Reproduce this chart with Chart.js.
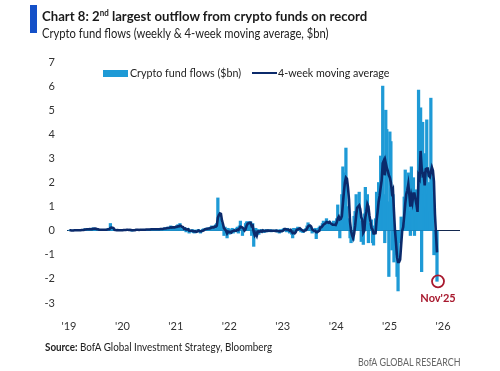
<!DOCTYPE html>
<html><head><meta charset="utf-8">
<script src="https://cdn.jsdelivr.net/npm/chart.js@4.4.1/dist/chart.umd.min.js"></script>
<style>
html,body{margin:0;padding:0;background:#fff;}
#wrap{position:relative;width:500px;height:371px;overflow:hidden;font-family:Lato,'Open Sans',sans-serif;}
canvas{position:absolute;left:0;top:0;}
.t{position:absolute;white-space:nowrap;transform-origin:0 50%;}
sup{font-size:8.5px;line-height:0;vertical-align:5px;}
</style></head><body>
<div id="wrap">
<canvas id="c" width="500" height="371"></canvas>
<div class="t" style="left:30px;top:5px;width:7px;height:28px;background:#1450c8"></div>
<div class="t" style="left:42px;top:8px;font-size:14px;font-weight:700;line-height:16px;color:#1a1a1a;transform:scaleX(0.94)">Chart 8: 2<sup>nd</sup> largest outflow from crypto funds on record</div>
<div class="t" style="left:42px;top:25px;font-size:13.5px;line-height:16px;color:#222;transform:scaleX(0.83)">Crypto fund flows (weekly &amp; 4-week moving average, $bn)</div>
<div class="t" style="left:103px;top:70px;width:25px;height:7px;background:#1e9ad6"></div>
<div class="t" style="left:130px;top:66px;font-size:11.5px;line-height:14px;color:#222;transform:scaleX(0.93)">Crypto fund flows ($bn)</div>
<div class="t" style="left:252px;top:72px;width:25px;height:2px;background:#0b2a6b"></div>
<div class="t" style="left:278px;top:66px;font-size:11.5px;line-height:14px;color:#222;transform:scaleX(0.93)">4-week moving average</div>
<div class="t" style="left:45px;top:340px;font-size:12px;line-height:14px;color:#222;transform:scaleX(0.82)"><b>Source:</b> BofA Global Investment Strategy, Bloomberg</div>
<div class="t" style="left:358px;top:355px;font-size:11px;line-height:14px;color:#666;transform:scaleX(0.81)">BofA GLOBAL RESEARCH</div>
</div>
<script>
// weekly crypto fund flows ($bn), one row per calendar year, last week = 21 Nov 2025
const flows2019 = [0.02,0.01,0.0,0.02,0.01,0.03,0.02,0.0,0.02,0.03,
  0.01,0.02,0.04,0.03,0.05,0.08,0.04,0.06,0.05,0.1,
  0.06,0.04,0.08,0.12,0.06,0.1,0.05,0.03,0.06,0.02,
  0.04,0.05,0.03,0.02,0.05,0.04,0.06,0.03,0.1,0.05,
  0.3,0.08,0.03,0.02,0.04,0.01,0.02,0.03,0.01,0.02,
  0.03,0.02];
const flows2020 = [0.02,0.03,0.04,0.02,0.05,0.03,0.02,0.04,0.03,-0.02,
  0.02,0.03,0.05,0.04,0.02,0.03,0.04,0.05,0.03,0.02,
  0.04,0.06,0.03,0.05,0.04,0.03,0.06,0.05,0.08,0.04,
  0.06,0.05,0.07,0.04,0.06,0.08,0.05,0.1,0.07,0.06,
  0.09,0.12,0.08,0.1,0.15,0.09,0.12,0.2,0.1,0.15,
  0.12,0.18];
const flows2021 = [0.15,0.2,0.25,0.1,0.3,0.15,0.1,0.05,0.08,0.12,
  -0.05,0.05,0.1,-0.1,-0.05,0.02,0.05,-0.08,-0.1,0.03,
  -0.05,0.02,0.05,-0.05,-0.1,0.02,0.05,0.08,0.03,0.1,
  0.05,0.12,0.08,0.1,0.15,0.2,0.12,0.1,0.2,0.25,
  0.3,1.36,0.7,0.5,0.3,0.2,0.1,-0.2,0.15,-0.1,
  -0.3,0.1];
const flows2022 = [-0.15,0.05,-0.1,0.1,-0.1,0.05,-0.05,0.1,0.15,-0.1,
  0.2,0.4,0.1,-0.2,0.05,0.1,0.3,0.37,0.37,0.2,
  0.37,0.37,-0.2,0.3,-0.65,-0.2,0.1,-0.1,0.05,-0.15,
  0.0,0.05,-0.05,0.03,-0.08,0.02,0.05,-0.05,0.02,-0.03,
  0.05,-0.05,0.03,-0.02,0.02,-0.03,0.04,-0.06,0.02,-0.1,
  0.05,-0.05];
const flows2023 = [0.05,0.08,0.1,0.05,-0.05,0.1,0.05,-0.1,0.05,-0.15,
  -0.3,0.1,-0.1,0.05,0.1,0.15,0.05,0.1,-0.05,0.03,
  -0.08,0.02,0.05,0.1,0.2,0.33,0.2,0.1,0.05,-0.1,
  0.05,-0.05,0.1,-0.33,0.05,0.1,0.15,0.2,0.1,0.3,
  0.4,0.3,0.25,0.5,0.35,0.2,0.4,0.3,0.2,0.1,
  0.4,0.3];
const flows2024 = [0.15,0.5,1.07,0.6,-0.3,0.6,1.5,2.65,1.9,2.4,
  3.43,1.0,0.5,0.3,-0.3,-0.5,-0.2,-0.4,0.6,0.8,
  1.5,0.9,0.7,1.6,0.4,-0.45,0.3,-0.57,0.7,1.8,
  1.2,1.5,-0.5,0.3,0.2,0.45,-0.5,-0.6,0.2,0.5,
  1.6,0.8,2.0,1.4,3.1,2.2,6.0,1.5,-0.5,5.0,
  4.2,1.2];
const flows2025 = [-1.9,4.1,3.7,-0.8,1.5,-1.3,-0.4,-1.0,-1.9,-2.5,
  -0.3,-0.5,0.57,0.2,0.33,1.4,2.52,1.8,1.0,2.4,
  0.8,-0.2,2.65,1.5,2.2,-0.2,1.7,0.6,1.0,5.83,
  1.3,5.1,-1.7,4.5,1.5,3.2,1.0,4.6,1.5,2.0,
  0.8,5.5,2.2,1.5,-1.0,0.0,-1.0,-2.1];

// 4-week moving average ($bn)
const ma2019 = [0.02,0.02,0.01,0.01,0.01,0.02,0.02,0.02,0.02,0.02,
  0.02,0.02,0.03,0.03,0.03,0.05,0.05,0.06,0.06,0.06,
  0.07,0.06,0.06,0.08,0.08,0.09,0.08,0.06,0.06,0.04,
  0.04,0.04,0.04,0.04,0.04,0.04,0.04,0.05,0.06,0.06,
  0.12,0.13,0.12,0.11,0.04,0.03,0.02,0.03,0.02,0.02,
  0.02,0.02];
const ma2020 = [0.02,0.03,0.03,0.03,0.04,0.04,0.03,0.04,0.03,0.02,
  0.02,0.02,0.02,0.04,0.04,0.04,0.03,0.04,0.04,0.04,
  0.04,0.04,0.04,0.05,0.05,0.05,0.05,0.05,0.06,0.06,
  0.06,0.06,0.06,0.06,0.06,0.06,0.06,0.07,0.07,0.07,
  0.08,0.09,0.09,0.1,0.11,0.11,0.12,0.14,0.13,0.14,
  0.14,0.14];
const ma2021 = [0.16,0.16,0.18,0.18,0.21,0.2,0.16,0.15,0.08,0.09,
  0.05,0.05,0.06,0.0,0.0,0.0,0.0,-0.02,-0.03,-0.03,
  -0.05,-0.03,0.01,-0.01,-0.02,-0.02,0.0,0.01,0.05,0.07,
  0.07,0.08,0.09,0.09,0.11,0.13,0.14,0.14,0.17,0.17,
  0.21,0.53,0.65,0.72,0.7,0.43,0.28,0.1,0.06,-0.01,
  -0.11,-0.04];
const ma2022 = [-0.06,-0.06,-0.08,-0.03,-0.01,0.01,0.0,0.0,0.04,0.03,
  0.09,0.16,0.15,0.13,0.09,0.01,0.06,0.2,0.29,0.31,
  0.33,0.33,0.19,0.21,-0.05,-0.19,-0.11,-0.21,-0.04,-0.03,
  -0.04,-0.01,-0.04,0.01,-0.01,-0.02,0.0,-0.01,0.01,0.0,
  0.0,0.0,0.0,0.0,0.0,-0.01,0.0,-0.01,-0.01,-0.03,
  -0.02,-0.02];
const ma2023 = [-0.01,0.01,0.07,0.07,0.05,0.05,0.04,0.0,0.03,-0.04,
  -0.1,-0.08,-0.11,-0.06,0.04,0.05,0.08,0.1,0.06,0.03,
  0.0,-0.02,0.01,0.02,0.09,0.17,0.21,0.21,0.17,0.06,
  0.02,-0.01,0.0,-0.06,-0.06,-0.03,-0.01,0.13,0.14,0.19,
  0.25,0.28,0.31,0.36,0.35,0.33,0.36,0.31,0.28,0.25,
  0.25,0.25];
const ma2024 = [0.24,0.34,0.5,0.58,0.47,0.49,0.6,1.11,1.6,2.0,
  2.2,2.15,1.8,1.3,0.38,0.0,-0.18,-0.3,-0.13,0.2,
  0.63,0.95,1.0,1.05,0.9,0.56,0.46,-0.08,0.0,0.56,
  0.8,1.1,1.0,0.63,0.38,0.11,0.05,-0.11,-0.11,-0.1,
  0.43,0.78,1.2,1.45,1.8,2.1,2.8,2.9,2.3,2.8,
  2.6,2.48];
const ma2025 = [2.3,2.2,2.0,1.6,1.7,0.8,0.0,-0.5,-1.1,-1.3,
  -1.3,-1.2,-0.6,-0.01,0.15,0.63,1.11,1.51,1.68,1.93,
  1.5,1.0,1.41,1.19,1.54,1.54,1.3,1.08,0.78,2.28,
  2.18,3.31,2.63,2.3,2.35,1.88,2.55,2.58,2.58,2.28,
  2.23,2.45,2.63,2.5,2.05,0.68,-0.13,-0.9];

const lastWeek = '2025-11-21';
const yearTicks = [2019,2020,2021,2022,2023,2024,2025,2026];
const tickLabels = ["'19","'20","'21","'22","'23","'24","'25","'26"];
const yTicks = [-3,-2,-1,0,1,2,3,4,5,6,7];

const flows = [...flows2019,...flows2020,...flows2021,...flows2022,...flows2023,...flows2024,...flows2025];
const ma = [...ma2019,...ma2020,...ma2021,...ma2022,...ma2023,...ma2024,...ma2025];

function decYear(d){
  const y = d.getUTCFullYear();
  const s = Date.UTC(y,0,1), e = Date.UTC(y+1,0,1);
  return y + (d.getTime()-s)/(e-s);
}
const endMs = Date.parse(lastWeek+'T00:00:00Z');
function weekX(i, n){ return decYear(new Date(endMs - (n-1-i)*7*864e5)); }
const flowPts = flows.map((v,i)=>({x:weekX(i,flows.length), y:v}));
const maPts = ma.map((v,i)=>({x:weekX(i,ma.length), y:v}));

const BLUE='#1e9ad6', NAVY='#0b2a6b', RED='#a8192e';

const annot = {
  id:'annot',
  afterDatasetsDraw(chart){
    const {ctx, scales:{x,y}} = chart;
    const p = flowPts[flowPts.length-1];
    const px = x.getPixelForValue(p.x), py = y.getPixelForValue(p.y);
    ctx.save();
    ctx.strokeStyle = RED; ctx.lineWidth = 1.8;
    ctx.beginPath(); ctx.arc(px+1, py, 6, 0, Math.PI*2); ctx.stroke();
    ctx.fillStyle = RED; ctx.font = 'bold 11px Lato, sans-serif';
    ctx.textAlign='center'; ctx.textBaseline='middle';
    ctx.fillText("Nov'25", px+1, py+17);
    ctx.restore();
  }
};

new Chart(document.getElementById('c'), {
  type:'bar',
  data:{datasets:[
    {type:'line', label:'4-week moving average', data:maPts, borderColor:NAVY, borderWidth:2.6, pointRadius:0, tension:0, order:1},
    {type:'bar', label:'Crypto fund flows ($bn)', data:flowPts, backgroundColor:BLUE, barThickness:2.6, order:2}
  ]},
  options:{
    responsive:false, animation:false, devicePixelRatio:1,
    layout:{padding:{left:0,right:40,top:62,bottom:38}},
    plugins:{legend:{display:false}, tooltip:{enabled:false}},
    scales:{
      x:{type:'linear', min:2018.963, max:2026.318, offset:false,
        grid:{display:false}, border:{display:false},
        afterBuildTicks(s){ s.ticks = yearTicks.map(v=>({value:v})); },
        afterFit(s){ s.height = 30; },
        ticks:{padding:9, color:'#333', font:{family:'Lato', size:11}, maxRotation:0,
          callback:(v,i)=>tickLabels[i]}},
      y:{min:-3, max:7, z:1,
        afterBuildTicks(s){ s.ticks = yTicks.map(v=>({value:v})); },
        afterFit(s){ s.width = 67; },
        border:{display:false},
        grid:{drawTicks:false, lineWidth:1, color:c=>c.tick && c.tick.value===0 ? '#13284f' : 'rgba(0,0,0,0)'},
        ticks:{padding:12, color:'#333', font:{family:'Lato', size:11}}}
    }
  },
  plugins:[annot]
});
</script>
</body></html>
